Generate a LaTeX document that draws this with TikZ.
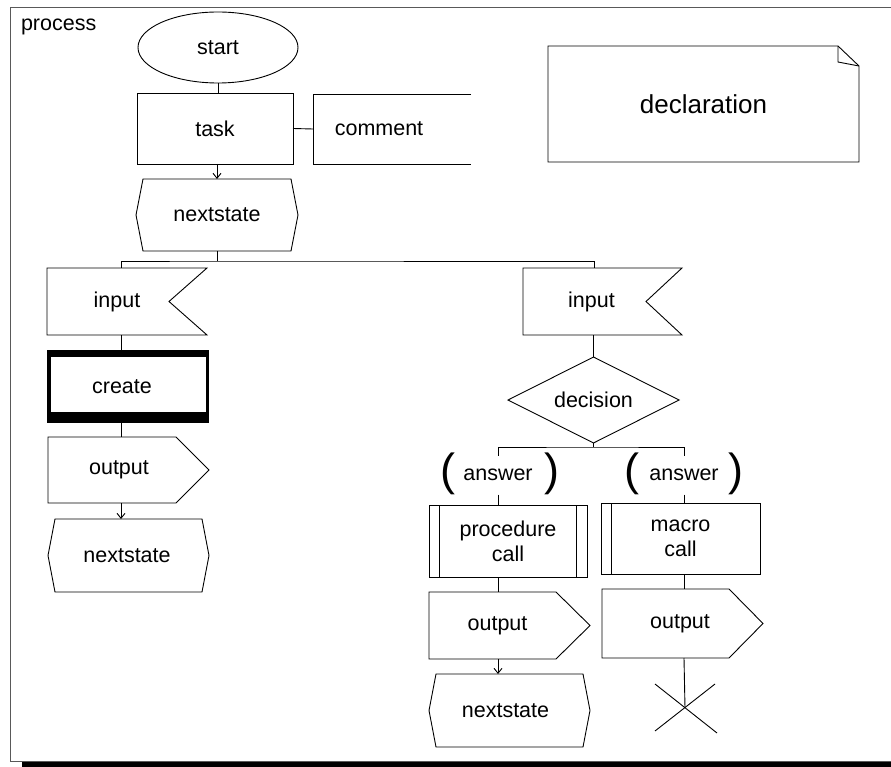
\documentclass[tikz,border=0pt]{standalone}
\usepackage{fontspec}
\setmainfont{Liberation Sans}
\usetikzlibrary{shapes.geometric,calc,arrows.meta,backgrounds}
\newcommand\SDLstate[1]{\draw ($(#1.north west)+(7,0)$) -- ($(#1.north east)+(-7,0)$) -- (#1.east) -- ($(#1.south east)+(-7,0)$) -- ($(#1.south west)+(7,0)$) -- (#1.west) -- cycle;}
\newcommand\SDLinput[2]{\draw (#1.north west) -- (#1.north east) -- ($(#1.east)+(-#2,0)$) -- (#1.south east) -- (#1.south west) -- cycle;}
\newcommand\SDLoutput[2]{\draw (#1.north west) -- ($(#1.north east)+(-#2,0)$) -- (#1.east) -- ($(#1.south east)+(-#2,0)$) -- (#1.south west) -- cycle;}
\begin{document}
\begin{tikzpicture}[x=1pt,y=-1pt,line width=0.9pt,
  lbl/.style={font=\fontsize{21.5}{25}\selectfont, inner sep=0pt, outer sep=0pt, rectangle},
  tshift/.style={execute at begin node={\hspace*{#1pt}}},
  arr/.style={-{Straight Barb[length=5pt,width=8pt]}},
  paren/.style={inner sep=0pt, outer sep=0pt, font=\fontsize{45}{45}\selectfont},
  framecol/.style={draw=black!65}]
\useasboundingbox (0,0) rectangle (891,767);
% frame
\draw[framecol] (891,7) -- (10,7) -- (10,761) -- (891,761);
\fill (22,762) rectangle (891,767);
\node[lbl, anchor=west] (proc) at (21,27) {process};

% top column
\node[lbl, ellipse, draw, minimum width=160, minimum height=71] (start) at (218,47.5) {start};
\node[lbl, draw, minimum width=156, minimum height=71] (task) at (215,128.5) {task};
\node[lbl, minimum width=158, minimum height=70, tshift=-26] (comment) at (392,129) {comment};
\draw (comment.north east) -- (comment.north west) -- (comment.south west) -- (comment.south east);
\node[lbl, minimum width=162, minimum height=72] (ns1) at (217,215) {nextstate};
\SDLstate{ns1}

% declaration
\node[lbl, font=\fontsize{26}{30}\selectfont, minimum width=311, minimum height=116] (decl) at (703.5,104) {declaration};
\draw (decl.south west) -- (decl.north west) -- ($(decl.north east)+(-21,0)$) -- ($(decl.north east)+(0,20)$) -- (decl.south east) -- cycle;
\draw ($(decl.north east)+(-21,0)$) -- ($(decl.north east)+(-21,16)$) -- ($(decl.north east)+(0,20)$);

% columns
\coordinate (colL) at (121,0);
\coordinate (colR) at (594,0);
\coordinate (colA) at (498,0);
\coordinate (colB) at (684,0);
\coordinate (j1) at (217,261);
\coordinate (j2) at (593.5,447);

% left branch
\node[lbl, minimum width=160, minimum height=67, tshift=-20] (in1) at (127,301.5) {input};
\SDLinput{in1}{38}
\node[lbl, minimum width=162, minimum height=73, tshift=-12] (cr) at (128,386.5) {create};
\begin{scope}[on background layer]
\fill (cr.north west) rectangle (cr.south east);
\fill[white] ($(cr.north west)+(4,7)$) rectangle ($(cr.south east)+(-3,-11)$);
\end{scope}
\node[lbl, minimum width=161, minimum height=66, tshift=-19] (out1) at (128.5,470) {output};
\SDLoutput{out1}{33}
\node[lbl, minimum width=161, minimum height=73, tshift=-3] (ns2) at (128.5,555.5) {nextstate};
\SDLstate{ns2}

% right branch
\node[lbl, minimum width=159, minimum height=67, tshift=-22] (in2) at (602.5,301.5) {input};
\SDLinput{in2}{36}
\node[lbl, minimum width=171, minimum height=86] (dec) at (593.5,400) {decision};
\draw (dec.north) -- (dec.east) -- (dec.south) -- (dec.west) -- cycle;

\node[lbl, minimum height=39] (ansL) at (498,475) {answer};
\node[paren] (lpL) at (448,474) {(};
\node[paren] (rpL) at (552,474) {)};
\node[lbl, minimum height=39] (ansR) at (684,475) {answer};
\node[paren] (lpR) at (632,474) {(};
\node[paren] (rpR) at (736,474) {)};

\node[lbl, draw, align=center, minimum width=158, minimum height=72] (pc) at (508,541) {procedure\\call};
\draw ($(pc.north west)+(10,0)$) -- ($(pc.south west)+(10,0)$);
\draw ($(pc.north east)+(-11,0)$) -- ($(pc.south east)+(-11,0)$);
\node[lbl, minimum width=161, minimum height=67, tshift=-24] (out2) at (509.5,625.5) {output};
\SDLoutput{out2}{34}
\node[lbl, minimum width=161, minimum height=73, tshift=-8] (ns3) at (509.5,710.5) {nextstate};
\SDLstate{ns3}

\node[lbl, draw, align=center, minimum width=159, minimum height=71] (mc) at (680.5,538.5) {macro\\call};
\draw ($(mc.north west)+(10,0)$) -- ($(mc.south west)+(10,0)$);
\node[lbl, minimum width=161, minimum height=69, tshift=-5] (out3) at (682.5,623.5) {output};
\SDLoutput{out3}{34}
\coordinate (stop) at (685,708);
\draw ($(stop)+(-30,-24)$) -- ($(stop)+(32,25)$);
\draw ($(stop)+(30,-24)$) -- ($(stop)+(-30,23)$);

% connectors
\draw (start.south) -- (start.south |- task.north);
\draw (task.east) -- (comment.west);
\draw[arr] (ns1.north |- task.south) -- (ns1.north);
\draw (ns1.south) -- (j1);
\draw (in1.north -| colL) |- (j1) -| (in2.north -| colR);
\draw (in1.south -| colL) -- (cr.north -| colL);
\draw (cr.south -| colL) -- (out1.north -| colL);
\draw[arr] (out1.south -| colL) -- (ns2.north -| colL);
\draw (dec.north |- in2.south) -- (dec.north);
\draw (dec.south) -- (j2);
\draw (ansL.north) |- (j2) -| (ansR.north);
\draw (ansL.south) -- (ansL.south |- pc.north);
\draw (ansR.south) -- (ansR.south |- mc.north);
\draw (pc.south -| colA) -- (out2.north -| colA);
\draw[arr] (out2.south -| colA) -- (ns3.north -| colA);
\draw (mc.south -| colB) -- (out3.north -| colB);
\draw (out3.south -| colB) -- (stop);
\end{tikzpicture}
\end{document}
